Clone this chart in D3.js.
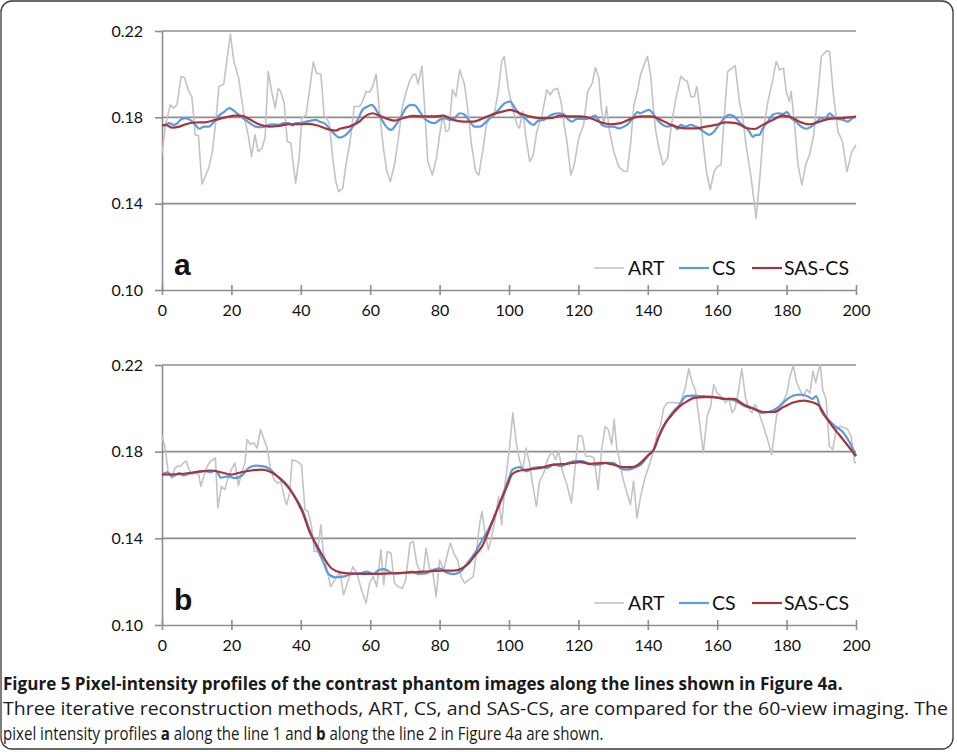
<!DOCTYPE html>
<html><head><meta charset="utf-8">
<script src="https://cdn.jsdelivr.net/npm/d3@7"></script>
<style>
html,body{margin:0;padding:0;background:#fff;}
svg{display:block;}
</style></head>
<body>
<svg id="c" width="957" height="752"></svg>
<script>
// ---------- data ----------
const xTicks = [0,20,40,60,80,100,120,140,160,180,200];
const yTicks = [0.10,0.14,0.18,0.22];
const seriesNames = ["ART","CS","SAS-CS"];

// panel a : line 1
const artA = [[0,0.1626],[1,0.1765],[2.4,0.1858],[3.3,0.1843],[4.3,0.1858],[5.5,0.1989],[6.5,0.1985],[7.7,0.192],[8.6,0.1896],[9.6,0.1719],[10.5,0.1715],[11.5,0.149],[13.5,0.1566],[14.5,0.164],[15.4,0.1765],[16.4,0.1943],[17.8,0.1954],[19.7,0.2186],[20.7,0.2059],[22.1,0.1982],[23.6,0.1812],[25,0.1704],[25.8,0.1618],[26.8,0.1719],[27.7,0.1641],[28.8,0.1657],[29.7,0.1705],[30.6,0.2012],[31.6,0.192],[32.6,0.1843],[33.5,0.1935],[34.2,0.192],[35.2,0.1866],[36.1,0.1688],[37.1,0.1681],[38.5,0.1495],[39.5,0.1611],[40.3,0.1796],[41.5,0.181],[42.6,0.1935],[43.6,0.2056],[44.5,0.2005],[45.8,0.2],[46.7,0.181],[48.2,0.1775],[49.2,0.161],[50.1,0.1502],[50.9,0.1456],[52.1,0.1472],[53,0.158],[54.2,0.1688],[55.4,0.185],[56.9,0.185],[57.8,0.1873],[58.8,0.192],[59.8,0.1916],[60.7,0.1943],[61.7,0.2],[62.6,0.1843],[63.8,0.1657],[64.8,0.1549],[65.8,0.1502],[67,0.158],[68,0.1688],[69.2,0.1843],[70.4,0.192],[71.3,0.1966],[72.3,0.1997],[73.1,0.2],[73.8,0.1954],[74.9,0.2036],[75.7,0.1843],[76.6,0.1595],[77.9,0.1533],[79.1,0.1611],[80,0.1719],[81,0.181],[81.8,0.1734],[82.7,0.1742],[83.7,0.1928],[84.7,0.1896],[85.8,0.202],[87.2,0.1951],[88.2,0.1827],[89.2,0.1672],[90.4,0.1549],[91.3,0.1533],[92.4,0.1641],[93.5,0.1765],[94.7,0.181],[95.9,0.1827],[96.9,0.192],[97.9,0.2059],[98.6,0.2082],[99.8,0.1935],[101,0.1843],[102.3,0.1765],[103,0.175],[104,0.1827],[104.9,0.1704],[106,0.1595],[107,0.1626],[108,0.1734],[109.5,0.181],[110.9,0.1928],[111.9,0.1904],[112.8,0.1928],[114,0.1935],[115,0.1873],[115.9,0.1765],[116.7,0.1688],[117.8,0.1533],[118.8,0.158],[120.1,0.1704],[121.5,0.1765],[122.7,0.192],[124,0.1959],[124.9,0.2031],[125.9,0.1982],[126.6,0.1843],[127.3,0.1765],[128.1,0.185],[129,0.1734],[130.2,0.1641],[131.6,0.1572],[133.1,0.1549],[134.1,0.1551],[135,0.1672],[136,0.1858],[137,0.192],[137.9,0.1997],[138.9,0.2044],[139.9,0.2082],[140.8,0.1997],[141.6,0.1843],[142.3,0.1734],[143.2,0.1657],[144.4,0.158],[145.7,0.1611],[146.8,0.1765],[148,0.188],[149.5,0.199],[150.5,0.1975],[151.4,0.1966],[152.4,0.1896],[153.4,0.1896],[154.1,0.1943],[155,0.1843],[156,0.1672],[156.9,0.1549],[158,0.1464],[159.1,0.1549],[160.1,0.1572],[161.1,0.158],[162,0.1796],[163,0.2012],[164.3,0.2028],[165.2,0.204],[166.4,0.1873],[167.4,0.1796],[168.3,0.1672],[169.8,0.1518],[171.2,0.1332],[172.2,0.1502],[173.3,0.1734],[174.6,0.1873],[176,0.1974],[177,0.2059],[178,0.202],[179.1,0.2028],[179.9,0.192],[180.8,0.1873],[181.3,0.192],[182.3,0.1765],[183.3,0.158],[184.4,0.1487],[185.5,0.158],[186.6,0.1626],[187.8,0.1719],[189.1,0.192],[190,0.2082],[191.5,0.2108],[192.4,0.2105],[193.4,0.192],[194.8,0.1734],[196.1,0.1688],[197.4,0.1549],[198.8,0.1641],[200,0.1672]];

const csA = [[0,0.1762],[1,0.1765],[2,0.1773],[3.4,0.1765],[4.5,0.1773],[5.3,0.1788],[6.7,0.1796],[8.1,0.1788],[9.6,0.1765],[10.8,0.1747],[12.1,0.1757],[13.5,0.1757],[15,0.178],[16.4,0.1808],[17.8,0.1824],[19.4,0.1843],[20.7,0.1831],[22.1,0.1812],[23.6,0.1793],[25,0.1777],[27,0.1757],[28.8,0.1754],[30.7,0.1765],[32.1,0.1768],[33.6,0.1765],[35.1,0.1773],[36.6,0.1773],[37.6,0.1762],[38.5,0.1773],[40,0.1773],[41.5,0.178],[43,0.1785],[44.4,0.1788],[45.4,0.178],[46.8,0.1773],[48.2,0.1749],[49.2,0.1731],[51.1,0.1706],[53,0.1719],[55,0.1757],[56.4,0.1788],[57.8,0.1835],[59.3,0.185],[60.5,0.1858],[61.7,0.1835],[63.1,0.1796],[64.6,0.1757],[66,0.1742],[67.4,0.1765],[68.9,0.1804],[70.3,0.1843],[71.7,0.1858],[73,0.1855],[74.1,0.183],[75.6,0.1796],[77,0.178],[78.5,0.1773],[80,0.1788],[81.4,0.1796],[82.9,0.1788],[84.3,0.1796],[85.8,0.1819],[87.2,0.1812],[88.7,0.178],[90.1,0.1757],[91.6,0.1757],[93,0.1773],[94.5,0.1796],[95.9,0.1815],[97.4,0.1842],[98.8,0.1866],[100.3,0.1873],[101.7,0.1843],[103.2,0.1812],[104.6,0.1796],[106.1,0.1773],[107,0.1765],[108.5,0.1785],[110,0.1788],[111.4,0.1804],[112.8,0.1815],[114.3,0.1819],[115.7,0.1815],[117.2,0.1788],[118.1,0.178],[119.6,0.1793],[121,0.1793],[122.5,0.1793],[124,0.1804],[124.9,0.1808],[125.8,0.1788],[126.8,0.1765],[128.2,0.1757],[130.2,0.1757],[131.6,0.1749],[133.1,0.1757],[134.5,0.1773],[136,0.1804],[137,0.1824],[137.9,0.1819],[139.4,0.183],[140.4,0.1835],[141.4,0.1819],[142.8,0.1788],[144.3,0.1765],[145.7,0.1757],[147.2,0.1765],[148.6,0.1745],[149.4,0.1765],[150.9,0.1757],[152.4,0.1765],[153.8,0.1757],[155.8,0.1737],[157.7,0.1719],[159.1,0.1734],[160.5,0.1765],[162,0.1796],[163.4,0.1812],[164.9,0.1804],[166.3,0.178],[167.8,0.1757],[169.3,0.1734],[170.2,0.171],[171.2,0.1719],[172.2,0.1719],[173.1,0.1749],[174.6,0.178],[176,0.1812],[177.5,0.1819],[178.9,0.1815],[180.1,0.1824],[181.3,0.1796],[182.7,0.178],[184.2,0.1757],[185.6,0.1747],[187.1,0.1757],[188.5,0.1777],[190,0.1796],[191,0.1788],[192.4,0.1819],[193.4,0.1804],[194.8,0.1793],[196.3,0.1788],[197.7,0.178],[198.7,0.1793],[200,0.1804]];

const sasA = [[0,0.1762],[1,0.1765],[3,0.1752],[5,0.1757],[6.8,0.1768],[9.6,0.1776],[12.5,0.1777],[15.4,0.1788],[18.3,0.18],[21.2,0.1808],[23.1,0.1807],[25,0.1793],[27.9,0.1768],[30.8,0.1757],[33.7,0.176],[36.6,0.1768],[39.5,0.1768],[42.4,0.177],[45.3,0.176],[48.2,0.1743],[50.1,0.1738],[51.1,0.1746],[54,0.1757],[56.9,0.178],[58.8,0.1808],[60.7,0.1819],[62.6,0.1808],[65,0.1793],[67,0.1785],[69.4,0.1796],[72.3,0.1807],[75.2,0.1804],[78.1,0.1804],[81,0.1808],[83.9,0.1788],[86.8,0.178],[89.7,0.178],[92.6,0.1796],[95.5,0.1815],[98.9,0.183],[100.3,0.1835],[103.2,0.1819],[106.1,0.1804],[109,0.1796],[111.9,0.1796],[114.8,0.1808],[117.7,0.1804],[120.6,0.1804],[123.5,0.1796],[126.4,0.1777],[129.3,0.1768],[132.2,0.1773],[135.1,0.1793],[138,0.1804],[140.9,0.1804],[143.8,0.1788],[146.7,0.1765],[149.1,0.1752],[150.9,0.1749],[153.8,0.1749],[156.7,0.1757],[159.6,0.1765],[162.5,0.1777],[165.4,0.1773],[168.3,0.1752],[170.7,0.1746],[173.1,0.1765],[176,0.1788],[178.9,0.1808],[181.3,0.18],[183.7,0.178],[186.6,0.1768],[189.5,0.178],[192.4,0.1793],[195.3,0.1796],[198.2,0.18],[200,0.1804]];

// panel b : line 2
const artB = [[0,0.1874],[1,0.181],[1.8,0.1701],[2.8,0.1678],[3.5,0.1717],[4.3,0.1733],[5.3,0.1733],[6.2,0.1748],[7,0.1756],[7.8,0.1717],[8.6,0.1694],[9.6,0.1701],[10.6,0.1694],[11.2,0.164],[12.2,0.1694],[13,0.1733],[14,0.1756],[15.4,0.1771],[16.1,0.154],[17.1,0.164],[18.1,0.1624],[19,0.1678],[20,0.1717],[21,0.1748],[22,0.1643],[22.9,0.1701],[23.9,0.1748],[24.5,0.1856],[25.5,0.1833],[26.4,0.1841],[27.4,0.1817],[28.4,0.1902],[29.4,0.1856],[30.3,0.1817],[31.3,0.1717],[32.3,0.167],[33.3,0.1655],[34.2,0.1663],[35.2,0.1593],[35.9,0.1555],[36.8,0.1609],[37.5,0.1763],[38.8,0.1756],[40.2,0.174],[41.2,0.1532],[42.1,0.1524],[43.1,0.1455],[43.9,0.1339],[44.8,0.1339],[45.8,0.1463],[46.4,0.1347],[47.4,0.1269],[48.6,0.1177],[49.8,0.1208],[51.3,0.1246],[52.3,0.1139],[53.7,0.1208],[55,0.1269],[56.2,0.1238],[57.5,0.1162],[58.8,0.11],[59.8,0.1193],[60.9,0.1223],[61.9,0.1177],[63.1,0.1347],[63.9,0.1185],[64.9,0.1339],[66,0.1331],[67,0.1193],[68,0.1177],[69.3,0.117],[70.2,0.1208],[71.5,0.1378],[72.4,0.1385],[73.4,0.1285],[74.4,0.1246],[75.4,0.1254],[76.1,0.1354],[77.1,0.1262],[78.1,0.1238],[79,0.1131],[80,0.13],[81.2,0.1254],[82.3,0.1331],[83.1,0.1378],[84.1,0.1331],[85.2,0.13],[86.2,0.1223],[87.2,0.1193],[88.4,0.1208],[89.7,0.1223],[90.7,0.1347],[91.5,0.1462],[92.2,0.1524],[93.1,0.1424],[94.1,0.1347],[95,0.1408],[96,0.1485],[97,0.1593],[97.9,0.1462],[98.9,0.1655],[100.1,0.1809],[101.1,0.1979],[102.1,0.1841],[103,0.1763],[104,0.1717],[104.9,0.1817],[105.9,0.1748],[106.9,0.164],[107.9,0.1547],[108.8,0.1663],[110,0.1701],[111.1,0.1763],[112.4,0.1802],[113.4,0.1763],[114.3,0.1802],[115.3,0.1717],[116.8,0.164],[118,0.1563],[119,0.1717],[120,0.1874],[121.1,0.1871],[122.1,0.1779],[123.5,0.1779],[124.5,0.1771],[125.7,0.1624],[126.7,0.181],[127.7,0.1917],[128.6,0.1902],[129.6,0.1833],[130.3,0.1948],[131,0.1825],[131.8,0.1763],[132.8,0.1678],[134,0.1609],[135,0.1555],[135.9,0.1663],[136.9,0.1493],[137.9,0.1593],[139.3,0.1686],[140.8,0.1756],[141.9,0.1817],[142.7,0.1887],[143.6,0.1917],[144.6,0.2002],[145.6,0.2025],[147,0.2028],[148.3,0.2025],[149.4,0.2025],[150.8,0.2095],[151.8,0.2183],[152.8,0.2118],[153.7,0.2087],[154.7,0.1963],[156,0.1794],[157.1,0.1963],[158.1,0.2009],[159,0.211],[160,0.2071],[161.1,0.2055],[162.4,0.2025],[163.3,0.2048],[164.3,0.1979],[165.2,0.2002],[166.2,0.2087],[167.1,0.2183],[168.1,0.2055],[169,0.2002],[170,0.1979],[170.9,0.2017],[171.9,0.1986],[173.3,0.1917],[174.8,0.1841],[175.7,0.1786],[177.1,0.1963],[178.1,0.2017],[179,0.2032],[180,0.2064],[181,0.2148],[181.9,0.2198],[182.9,0.2118],[183.8,0.2087],[184.8,0.2055],[185.8,0.2087],[186.7,0.2071],[187.6,0.2171],[188.4,0.2118],[189,0.2163],[189.7,0.2202],[190.4,0.2087],[191.4,0.204],[192.3,0.1825],[193.3,0.181],[194.3,0.1902],[195.4,0.1917],[196.7,0.191],[197.6,0.1902],[198.6,0.1871],[199.6,0.1748],[200,0.1755]];

const csB = [[0,0.1694],[1.5,0.1705],[3,0.1686],[5,0.1701],[6.2,0.169],[8,0.17],[10,0.1705],[12.5,0.171],[14,0.1705],[15.5,0.1713],[17,0.168],[19,0.1686],[21,0.1678],[23,0.169],[25,0.1725],[27,0.1736],[29,0.1733],[31,0.172],[33,0.169],[35.5,0.165],[38,0.16],[40.5,0.153],[42.5,0.144],[44.5,0.136],[46.5,0.129],[48,0.1235],[50,0.122],[52,0.1223],[53,0.1227],[55,0.1236],[57,0.1238],[59,0.1246],[61,0.1236],[62.5,0.1254],[64,0.1258],[66,0.1242],[68,0.1238],[70,0.1242],[72,0.1246],[74,0.1236],[76,0.1238],[78,0.1254],[80,0.1262],[82,0.1242],[84,0.1235],[86,0.1246],[88,0.1285],[90,0.1328],[92,0.1385],[94,0.1439],[96,0.1509],[98,0.1593],[100,0.1678],[101,0.1717],[103,0.1729],[105,0.1709],[107,0.1725],[109,0.1729],[111,0.1725],[113,0.174],[115,0.1733],[117,0.1748],[119,0.1756],[121,0.1756],[123,0.1744],[126,0.174],[128,0.1748],[130,0.1748],[132,0.1725],[134,0.1717],[136,0.1725],[138,0.174],[140,0.1779],[142,0.1817],[143.2,0.1871],[145.1,0.1933],[147,0.1979],[149,0.2013],[151,0.2056],[153,0.2059],[156,0.2056],[159,0.2052],[162,0.2044],[165,0.2036],[168,0.201],[170,0.2002],[173,0.1979],[176,0.199],[178,0.201],[180,0.204],[182,0.2059],[184,0.2063],[186,0.2056],[187.5,0.2044],[188.5,0.2056],[190,0.1986],[192,0.1948],[194,0.1917],[196,0.1894],[198,0.1848],[200,0.1783]];

const sasB = [[0,0.1694],[6.2,0.1698],[11,0.1709],[14,0.1713],[17,0.1705],[19.9,0.1694],[22.8,0.1705],[25.7,0.1713],[28.6,0.1717],[31.5,0.1705],[33.9,0.1678],[36.3,0.164],[38.7,0.1578],[40.6,0.1516],[42.5,0.1431],[44.5,0.137],[46.4,0.1316],[48.8,0.1262],[51.7,0.1242],[55.6,0.1237],[60.9,0.1236],[65.8,0.1238],[70.6,0.1242],[75.4,0.1246],[80.2,0.1251],[84.1,0.1251],[86.5,0.1262],[88.4,0.1285],[90.3,0.1324],[92.2,0.1362],[94.1,0.1431],[96,0.1509],[98,0.1586],[99.4,0.164],[100.8,0.1694],[102.3,0.1709],[105.1,0.1717],[109,0.1725],[112.8,0.174],[116.7,0.1744],[120.5,0.1752],[123.3,0.1744],[127.2,0.1748],[130.1,0.174],[133,0.1729],[135.4,0.1729],[137.9,0.1748],[139.8,0.1779],[141.7,0.181],[143.2,0.1871],[145.1,0.1933],[147,0.1971],[149,0.2007],[151.4,0.2033],[153.3,0.2048],[156.2,0.2052],[159,0.2052],[161.9,0.2044],[164.8,0.2044],[167.7,0.2017],[170.6,0.1998],[173.5,0.1983],[176.3,0.1983],[179.2,0.2007],[182.1,0.2028],[185,0.2036],[187.4,0.2028],[189.3,0.2013],[191.2,0.1963],[193.2,0.1917],[195.1,0.1879],[197,0.1841],[198.9,0.1802],[200,0.1779]];

const captionTitle = "Figure 5 Pixel-intensity profiles of the contrast phantom images along the lines shown in Figure 4a.";
const captionLine2 = "Three iterative reconstruction methods, ART, CS, and SAS-CS, are compared for the 60-view imaging. The";
const captionLine3 = [["pixel intensity profiles ",false],["a",true],[" along the line 1 and ",false],["b",true],[" along the line 2 in Figure 4a are shown.",false]];

// ---------- drawing ----------
const svg = d3.select("#c");
const colors = {ART:"#c3c3c3", CS:"#5b9bdc", "SAS-CS":"#a8343a"};
const widths = {ART:1.6, CS:2.2, "SAS-CS":2.2};
const gridColor = "#8e8e8e";
const tickFont = "Lato, 'Open Sans', sans-serif";

// outer frame
svg.append("rect").attr("x",1).attr("y",1).attr("width",952).attr("height",748)
  .attr("rx",11).attr("fill","none").attr("stroke","#3a3a3a").attr("stroke-width",1.3);

const x = d3.scaleLinear().domain([0,200]).range([162,856]);

function panel(top, bottom, art, cs, sas, label){
  const y = d3.scaleLinear().domain([0.10,0.22]).range([bottom, top]);
  const g = svg.append("g");
  g.selectAll("line.grid").data(yTicks.filter(d=>d>0.1)).join("line")
    .attr("x1",x(0)).attr("x2",x(200)).attr("y1",d=>y(d)).attr("y2",d=>y(d))
    .attr("stroke",gridColor).attr("stroke-width",1.6);
  const ya = g.append("g").attr("transform",`translate(${x(0)},0)`)
    .call(d3.axisLeft(y).tickValues(yTicks).tickFormat(d3.format(".2f")).tickSize(7).tickSizeOuter(0).tickPadding(12));
  ya.select(".domain").attr("stroke",gridColor).attr("stroke-width",1.6);
  ya.selectAll(".tick line").attr("stroke",gridColor).attr("stroke-width",1.6);
  ya.selectAll(".tick text").attr("font-family",tickFont).attr("font-size",16).attr("fill","#111");
  const xa = g.append("g").attr("transform",`translate(0,${y(0.10)})`)
    .call(d3.axisBottom(x).tickValues(xTicks).tickSize(5).tickSizeOuter(0).tickPadding(10));
  xa.select(".domain").attr("stroke",gridColor).attr("stroke-width",1.6);
  xa.selectAll(".tick line").attr("y1",-5).attr("stroke",gridColor).attr("stroke-width",1.6);
  xa.selectAll(".tick text").attr("font-family",tickFont).attr("font-size",16).attr("fill","#111");

  const line = d3.line().x(d=>x(d[0])).y(d=>y(d[1]));
  const smooth = d3.line().x(d=>x(d[0])).y(d=>y(d[1])).curve(d3.curveMonotoneX);
  g.append("path").datum(art).attr("d",line).attr("fill","none")
    .attr("stroke",colors.ART).attr("stroke-width",widths.ART).attr("stroke-linejoin","round");
  g.append("path").datum(cs).attr("d",smooth).attr("fill","none")
    .attr("stroke",colors.CS).attr("stroke-width",widths.CS).attr("stroke-linejoin","round");
  g.append("path").datum(sas).attr("d",smooth).attr("fill","none")
    .attr("stroke",colors["SAS-CS"]).attr("stroke-width",widths["SAS-CS"]).attr("stroke-linejoin","round");

  g.append("text").attr("x",174).attr("y",bottom-15).text(label)
    .attr("font-family","'Liberation Sans', Arial, sans-serif").attr("font-weight","bold")
    .attr("font-size",30).attr("fill","#111");

  const ly = bottom - 22;
  const items = [{n:"ART",x1:594,x2:624,tx:628},{n:"CS",x1:679,x2:709,tx:712},{n:"SAS-CS",x1:752,x2:782,tx:784}];
  items.forEach(it=>{
    g.append("line").attr("x1",it.x1).attr("x2",it.x2).attr("y1",ly).attr("y2",ly)
      .attr("stroke",colors[it.n]).attr("stroke-width",widths[it.n]);
    g.append("text").attr("x",it.tx).attr("y",ly+7).text(it.n)
      .attr("font-family",tickFont).attr("font-size",19.5).attr("fill","#111");
  });
}

panel(31, 290, artA, csA, sasA, "a");
panel(365, 625, artB, csB, sasB, "b");

// caption: natural text, then squeezed horizontally to the reference width
const capFont = "'Open Sans', sans-serif";
function capLine(parts, baseline, targetW){
  const g = svg.append("g");
  const t = g.append("text").attr("x",0).attr("y",0)
    .attr("font-family",capFont).attr("font-size",18).attr("fill","#1a1a1a");
  parts.forEach(([s,b])=>t.append("tspan").text(s).attr("font-weight",b?"bold":"normal"));
  const w = t.node().getComputedTextLength();
  g.attr("transform",`translate(3,${baseline}) scale(${targetW/w},1)`);
}
capLine([[captionTitle,true]], 690, 840);
capLine([[captionLine2,false]], 715, 945);
capLine(captionLine3, 740, 601);
</script>
</body></html>
